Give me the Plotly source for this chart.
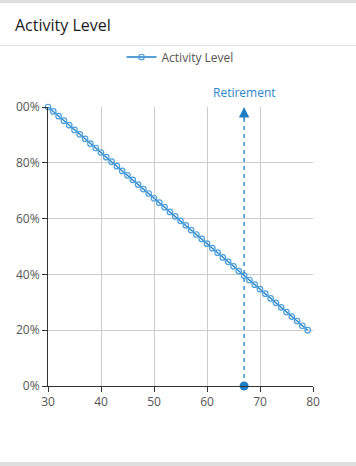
import plotly.graph_objects as go

# ---- data ----
ages = [30, 31, 32, 33, 34, 35, 36, 37, 38, 39,
        40, 41, 42, 43, 44, 45, 46, 47, 48, 49,
        50, 51, 52, 53, 54, 55, 56, 57, 58, 59,
        60, 61, 62, 63, 64, 65, 66, 67, 68, 69,
        70, 71, 72, 73, 74, 75, 76, 77, 78, 79]
activity = [100.0, 98.4, 96.7, 95.1, 93.5, 91.8, 90.2, 88.6, 86.9, 85.3,
            83.7, 82.0, 80.4, 78.8, 77.1, 75.5, 73.9, 72.2, 70.6, 69.0,
            67.3, 65.7, 64.1, 62.4, 60.8, 59.2, 57.6, 55.9, 54.3, 52.7,
            51.0, 49.4, 47.8, 46.1, 44.5, 42.9, 41.2, 39.6, 38.0, 36.3,
            34.7, 33.1, 31.4, 29.8, 28.2, 26.5, 24.9, 23.3, 21.6, 20.0]
retirement_age = 67
retirement_label = "Retirement"
y_ticks = [0, 20, 40, 60, 80, 100]
y_tick_labels = ["0%", "20%", "40%", "60%", "80%", "100%"]
x_ticks = [30, 40, 50, 60, 70, 80]

W, H = 356, 466
ML, MR, MT, MB = 48, 43, 107, 80
PW, PH = W - ML - MR, H - MT - MB

def px_x(p):
    return (p - ML) / PW

def px_y(p):
    return (H - MB - p) / PH

LINE = "#1f7ec6"
FONT = "Open Sans, Noto Sans, sans-serif"

fig = go.Figure()
fig.add_trace(go.Scatter(
    x=ages, y=activity, mode="lines+markers", name="Activity Level",
    line=dict(color=LINE, width=1.3),
    marker=dict(symbol="circle-open", size=5.5, color="#4d9fdc", line=dict(width=1.2)),
    cliponaxis=False,
))
fig.add_trace(go.Scatter(
    x=[retirement_age], y=[0], mode="markers", showlegend=False,
    marker=dict(color=LINE, size=9), cliponaxis=False, hoverinfo="skip",
))

shapes = [
    # page background bands (card edges)
    dict(type="rect", xref="paper", yref="paper", x0=px_x(0), x1=px_x(W),
         y0=px_y(0), y1=px_y(3), fillcolor="#dedede", line_width=0, layer="below"),
    dict(type="rect", xref="paper", yref="paper", x0=px_x(0), x1=px_x(W),
         y0=px_y(462), y1=px_y(H), fillcolor="#dedede", line_width=0, layer="below"),
    # header separator
    dict(type="line", xref="paper", yref="paper", x0=px_x(0), x1=px_x(W),
         y0=px_y(45.5), y1=px_y(45.5), line=dict(color="#e3e3e3", width=1), layer="below"),
    # retirement dashed line
    dict(type="line", xref="x", yref="y", x0=retirement_age, x1=retirement_age,
         y0=0, y1=96, line=dict(color=LINE, width=1.3, dash="4px,4px"), layer="above"),
    # clip of the leftmost digit of the top label, as in the reference
    dict(type="rect", xref="paper", yref="paper", x0=px_x(0), x1=px_x(14.5),
         y0=px_y(99), y1=px_y(116), fillcolor="white", line_width=0, layer="above"),
]

annotations = [
    dict(x=retirement_age, y=100, ax=retirement_age, ay=95, xref="x", yref="y",
         axref="x", ayref="y", text="", showarrow=True, arrowhead=2,
         arrowsize=1.6, arrowwidth=1.3, arrowcolor=LINE),
    dict(x=retirement_age, y=100, xref="x", yref="y", text=retirement_label,
         showarrow=False, yanchor="bottom", yshift=4,
         font=dict(family=FONT, size=12, color="#2b86c9")),
]

fig.update_layout(
    width=W, height=H,
    margin=dict(l=ML, r=MR, t=MT, b=MB, autoexpand=False),
    paper_bgcolor="white", plot_bgcolor="white",
    font=dict(family=FONT, size=12, color="#555555"),
    title=dict(text="Activity Level", x=15 / W, xref="container", xanchor="left",
               y=1 - 25 / H, yref="container", yanchor="middle",
               font=dict(family=FONT, size=16, color="#1a1a1a")),
    legend=dict(orientation="h", x=180 / W, xref="container", xanchor="center",
                y=1 - 57 / H, yref="container", yanchor="middle",
                font=dict(family=FONT, size=12, color="#555555"),
                itemwidth=30, bgcolor="rgba(0,0,0,0)"),
    shapes=shapes,
    annotations=annotations,
    xaxis=dict(range=[30, 80], tickvals=x_ticks, showgrid=True, gridcolor="#cccccc",
               zeroline=False, showline=True, linecolor="#333333", linewidth=1,
               ticks="outside", ticklen=5, tickcolor="#333333", automargin=False,
               tickfont=dict(size=12, color="#555555")),
    yaxis=dict(range=[0, 100], tickvals=y_ticks, ticktext=y_tick_labels,
               showgrid=True, gridcolor="#cccccc", zeroline=False,
               showline=True, linecolor="#333333", linewidth=1,
               ticks="outside", ticklen=5, tickcolor="#333333", automargin=False,
               tickfont=dict(size=12, color="#555555")),
)

fig.write_html("out.html",
               config={"displayModeBar": False},
               post_script="document.body.style.margin='0';document.body.style.overflow='hidden';")
